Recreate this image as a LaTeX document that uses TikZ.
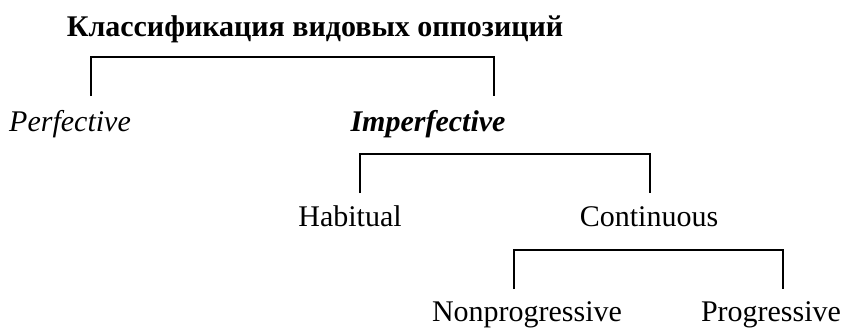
\documentclass[tikz,border=0pt]{standalone}
\usepackage{fontspec}
\setmainfont{Liberation Serif}
\begin{document}
\begin{tikzpicture}[x=1pt,y=1pt,
  lbl/.style={inner sep=0pt,anchor=base,font=\fontsize{30}{36}\selectfont},
  brk/.style={line width=1.3pt,line cap=butt,line join=miter}]
\useasboundingbox (0,0) rectangle (843,-327);
% labels
\node[lbl,font=\fontsize{30}{36}\selectfont\bfseries] (title) at (315,-36) {Классификация видовых оппозиций};
\node[lbl,font=\fontsize{30}{36}\selectfont\itshape] (perf) at (70,-131) {Perfective};
\node[lbl,font=\fontsize{30}{36}\selectfont\bfseries\itshape] (imperf) at (428,-131) {Imperfective};
\node[lbl] (hab) at (350,-226) {Habitual};
\node[lbl] (cont) at (649,-226) {Continuous};
\node[lbl] (nonprog) at (527,-321) {Nonprogressive};
\node[lbl] (prog) at (771,-321) {Progressive};
% bracket coordinates
\coordinate (b1a) at (91,-96);  \coordinate (b1b) at (494,-57);
\coordinate (b2a) at (360,-193); \coordinate (b2b) at (650,-154);
\coordinate (b3a) at (514,-289); \coordinate (b3b) at (783,-250);
\draw[brk] (b1a) |- (b1b) -- (b1b |- b1a);
\draw[brk] (b2a) |- (b2b) -- (b2b |- b2a);
\draw[brk] (b3a) |- (b3b) -- (b3b |- b3a);
\end{tikzpicture}
\end{document}
